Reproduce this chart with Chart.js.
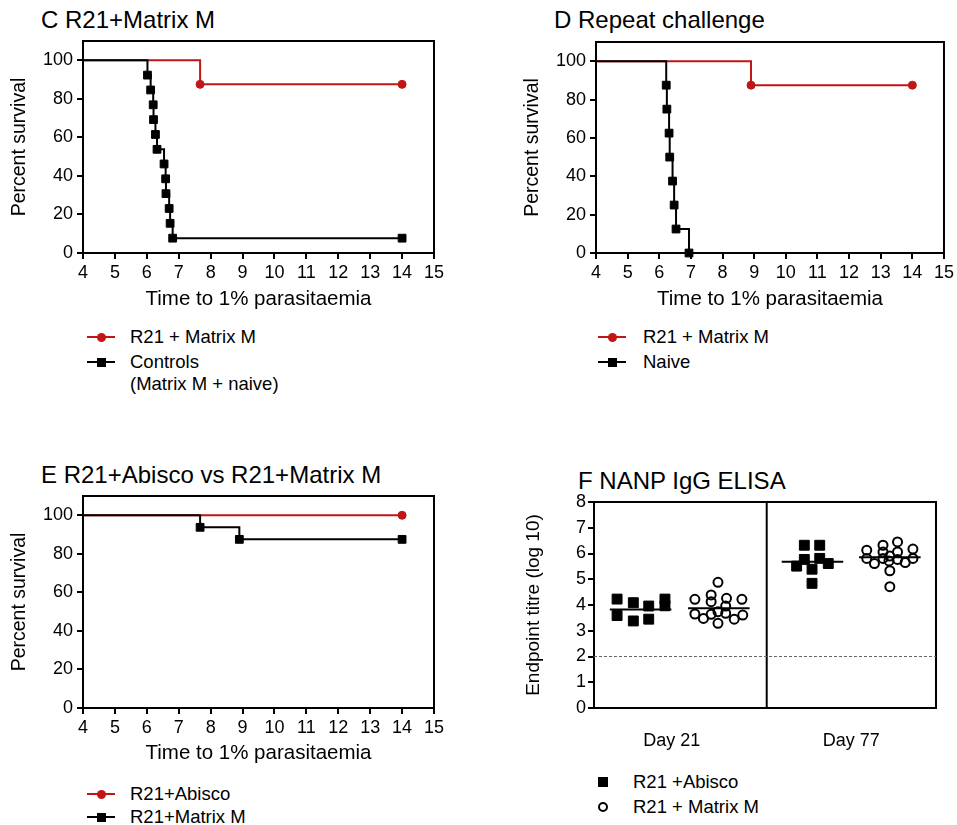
<!DOCTYPE html>
<html>
<head>
<meta charset="utf-8">
<title>Survival and ELISA panels</title>
<script src="https://cdn.jsdelivr.net/npm/chart.js@4.4.0/dist/chart.umd.min.js"></script>
<style>
  html, body { margin: 0; padding: 0; background: #fff; overflow: hidden; }
  body { width: 957px; height: 825px; position: relative; font-family: "Liberation Sans", Arial, sans-serif; color: #000; }
  canvas { position: absolute; }
  .title { position: absolute; font-size: 24px; line-height: 1; white-space: nowrap; }
  .legtext { position: absolute; font-size: 18.5px; line-height: 1; white-space: nowrap; }
  .legline { position: absolute; height: 2px; }
  .legmark { position: absolute; box-sizing: border-box; }
</style>
</head>
<body>

<div class="title" style="left:41px; top:8px">C R21+Matrix M</div>
<div class="title" style="left:554px; top:8px">D Repeat challenge</div>
<div class="title" style="left:41px; top:463px">E R21+Abisco vs R21+Matrix M</div>
<div class="title" style="left:578px; top:469px">F NANP IgG ELISA</div>

<canvas id="chartC" width="450" height="312" style="left:0; top:0"></canvas>
<canvas id="chartD" width="445" height="312" style="left:512px; top:0"></canvas>
<canvas id="chartE" width="450" height="326" style="left:0; top:440px"></canvas>
<canvas id="chartF" width="445" height="300" style="left:512px; top:460px"></canvas>

<script>
const FONT = "'Liberation Sans', Arial, sans-serif";
const RED = "#c01616";

// axis ticks
const survXTicks = [4, 5, 6, 7, 8, 9, 10, 11, 12, 13, 14, 15];
const survYTicks = [0, 20, 40, 60, 80, 100];
const elisaYTicks = [0, 1, 2, 3, 4, 5, 6, 7, 8];
const elisaGroups = ["Day 21", "Day 77"];

// C: R21 + Matrix M vs controls
const cTreatedTime = [4, 7.67, 14];
const cTreatedSurv = [100, 87.5, 87.5];
const cControlTime = [4, 6.02, 6.12, 6.2, 6.21, 6.27, 6.32, 6.54, 6.59, 6.6, 6.7, 6.73, 6.81, 14];
const cControlSurv = [100, 92.3, 84.6, 76.9, 69.2, 61.5, 53.8, 46.2, 38.5, 30.8, 23.1, 15.4, 7.7, 7.7];

// D: repeat challenge
const dTreatedTime = [4, 8.9, 14];
const dTreatedSurv = [100, 87.5, 87.5];
const dNaiveTime = [4, 6.22, 6.24, 6.31, 6.33, 6.42, 6.47, 6.53, 6.94];
const dNaiveSurv = [100, 87.5, 75, 62.5, 50, 37.5, 25, 12.5, 0];

// E: Abisco vs Matrix M
const eAbiscoTime = [4, 14];
const eAbiscoSurv = [100, 100];
const eMatrixTime = [4, 7.67, 8.9, 14];
const eMatrixSurv = [100, 93.75, 87.5, 87.5];

// F: endpoint titres (log10), x = position within the day group
const abiscoDay21X = [0.27, 0.27, 0.46, 0.46, 0.64, 0.64, 0.83, 0.83];
const abiscoDay21 = [4.23, 3.59, 4.09, 3.38, 3.96, 3.45, 4.23, 3.97];
const matrixDay21X = [1.45, 1.18, 1.37, 1.37, 1.55, 1.73, 1.54, 1.18, 1.28, 1.37, 1.45, 1.45, 1.54, 1.64, 1.74];
const matrixDay21 = [4.88, 4.22, 4.39, 4.13, 4.26, 4.22, 3.96, 3.65, 3.48, 3.64, 3.74, 3.29, 3.68, 3.45, 3.61];
const abiscoDay77X = [2.46, 2.64, 2.46, 2.64, 2.37, 2.55, 2.74, 2.55];
const abiscoDay77 = [6.32, 6.32, 5.77, 5.81, 5.51, 5.39, 5.61, 4.84];
const matrixDay77X = [3.55, 3.38, 3.19, 3.73, 3.38, 3.55, 3.19, 3.38, 3.46, 3.55, 3.73, 3.28, 3.45, 3.64, 3.46, 3.46];
const matrixDay77 = [6.45, 6.32, 6.13, 6.17, 6.06, 6.06, 5.81, 5.81, 5.90, 5.77, 5.81, 5.61, 5.71, 5.65, 5.33, 4.71];
const abiscoMedian = [3.83, 5.68];
const matrixMedian = [3.87, 5.85];
const detectionLimit = 2;

const pts = (xs, ys) => xs.map((x, i) => ({ x, y: ys[i] }));

// box around the plot area, like GraphPad
const framePlugin = {
  id: "frame",
  beforeDatasetsDraw(chart) {
    const { ctx, chartArea: a } = chart;
    ctx.save();
    ctx.strokeStyle = "#000";
    ctx.lineWidth = 2;
    ctx.strokeRect(a.left, a.top, a.right - a.left, a.bottom - a.top);
    ctx.restore();
  }
};

function kmLine(xs, ys, color, style, radius) {
  return {
    type: "line",
    data: pts(xs, ys),
    stepped: true,
    borderColor: color,
    backgroundColor: color,
    borderWidth: 2,
    pointStyle: style,
    pointRadius: (c) => (c.dataIndex === 0 ? 0 : radius),
    pointHoverRadius: 0,
    pointBackgroundColor: color,
    pointBorderColor: color,
    pointBorderWidth: 1,
    fill: false,
    clip: false
  };
}

function survivalChart(id, box, datasets) {
  return new Chart(document.getElementById(id), {
    type: "line",
    data: { datasets },
    options: {
      responsive: false,
      animation: false,
      devicePixelRatio: 1,
      layout: { padding: { top: box.padTop, right: box.padRight, left: 0, bottom: 0 } },
      plugins: { legend: { display: false }, tooltip: { enabled: false } },
      scales: {
        x: {
          type: "linear",
          min: 4,
          max: 15,
          afterBuildTicks: (s) => { s.ticks = survXTicks.map((v) => ({ value: v })); },
          afterFit: (s) => { s.height = box.xHeight; },
          grid: { display: true, drawOnChartArea: false, drawTicks: true, tickLength: 6, color: "#000", lineWidth: 2 },
          border: { display: true, color: "#000", width: 2 },
          ticks: { color: "#000", font: { family: FONT, size: 18 }, padding: 3, maxRotation: 0, autoSkip: false },
          title: {
            display: true,
            text: "Time to 1% parasitaemia",
            color: "#000",
            font: { family: FONT, size: 20.5 },
            padding: { top: 0, bottom: 0 }
          }
        },
        y: {
          type: "linear",
          min: 0,
          max: 110,
          afterBuildTicks: (s) => { s.ticks = survYTicks.map((v) => ({ value: v })); },
          afterFit: (s) => { s.width = box.yWidth; },
          grid: { display: true, drawOnChartArea: false, drawTicks: true, tickLength: 6, color: "#000", lineWidth: 2 },
          border: { display: true, color: "#000", width: 2 },
          ticks: { color: "#000", font: { family: FONT, size: 18 }, padding: 4 },
          title: {
            display: true,
            text: "Percent survival",
            color: "#000",
            font: { family: FONT, size: 19.5 },
            padding: { top: box.yTitlePad, bottom: 0 }
          }
        }
      }
    },
    plugins: [framePlugin]
  });
}

survivalChart("chartC", { padTop: 41, padRight: 16, yWidth: 83, xHeight: 59, yTitlePad: 8 }, [
  kmLine(cControlTime, cControlSurv, "#000", "rect", 5.5),
  kmLine(cTreatedTime, cTreatedSurv, RED, "circle", 4)
]);

survivalChart("chartD", { padTop: 42, padRight: 11, yWidth: 84, xHeight: 59, yTitlePad: 9 }, [
  kmLine(dNaiveTime, dNaiveSurv, "#000", "rect", 5.5),
  kmLine(dTreatedTime, dTreatedSurv, RED, "circle", 4)
]);

survivalChart("chartE", { padTop: 56, padRight: 16, yWidth: 83, xHeight: 58, yTitlePad: 8 }, [
  kmLine(eMatrixTime, eMatrixSurv, "#000", "rect", 5.5),
  kmLine(eAbiscoTime, eAbiscoSurv, RED, "circle", 4)
]);

// F: scatter with median bars
const medianHalf = 0.36;
const abiscoCenters = [0.545, 2.555];
const matrixCenters = [1.46, 3.46];
const medianLines = [];
abiscoMedian.forEach((m, i) => medianLines.push([abiscoCenters[i], m]));
matrixMedian.forEach((m, i) => medianLines.push([matrixCenters[i], m]));

new Chart(document.getElementById("chartF"), {
  type: "scatter",
  data: {
    datasets: [
      ...medianLines.map(([c, m]) => ({
        type: "line",
        data: [{ x: c - medianHalf, y: m }, { x: c + medianHalf, y: m }],
        borderColor: "#000",
        borderWidth: 2,
        pointRadius: 0,
        fill: false
      })),
      {
        data: pts(abiscoDay21X, abiscoDay21).concat(pts(abiscoDay77X, abiscoDay77)),
        pointStyle: "rect",
        pointRadius: 7,
        pointBackgroundColor: "#000",
        pointBorderColor: "#000",
        pointBorderWidth: 1,
        clip: false
      },
      {
        data: pts(matrixDay21X, matrixDay21).concat(pts(matrixDay77X, matrixDay77)),
        pointStyle: "circle",
        pointRadius: 4.5,
        pointBackgroundColor: "rgba(0,0,0,0)",
        pointBorderColor: "#000",
        pointBorderWidth: 2,
        clip: false
      },
      {
        type: "line",
        data: [{ x: 0, y: detectionLimit }, { x: 4, y: detectionLimit }],
        borderColor: "#666",
        borderWidth: 1,
        borderDash: [3, 2],
        pointRadius: 0,
        fill: false
      },
      {
        type: "line",
        data: [{ x: 2.02, y: 0 }, { x: 2.02, y: 8 }],
        borderColor: "#000",
        borderWidth: 2,
        pointRadius: 0,
        fill: false
      }
    ]
  },
  options: {
    responsive: false,
    animation: false,
    devicePixelRatio: 1,
    layout: { padding: { top: 42, right: 21, left: 0, bottom: 0 } },
    plugins: { legend: { display: false }, tooltip: { enabled: false } },
    scales: {
      x: {
        type: "linear",
        min: 0,
        max: 4,
        afterBuildTicks: (s) => { s.ticks = [{ value: 0.91 }, { value: 3.01 }]; },
        afterFit: (s) => { s.height = 52; },
        grid: { display: false },
        border: { display: true, color: "#000", width: 2 },
        ticks: {
          color: "#000",
          font: { family: FONT, size: 18 },
          padding: 14,
          maxRotation: 0,
          autoSkip: false,
          callback: (v, i) => elisaGroups[i]
        }
      },
      y: {
        type: "linear",
        min: 0,
        max: 8,
        afterBuildTicks: (s) => { s.ticks = elisaYTicks.map((v) => ({ value: v })); },
        afterFit: (s) => { s.width = 82; },
        grid: { display: true, drawOnChartArea: false, drawTicks: true, tickLength: 6, color: "#000", lineWidth: 2 },
        border: { display: true, color: "#000", width: 2 },
        ticks: { color: "#000", font: { family: FONT, size: 18 }, padding: 2 },
        title: {
          display: true,
          text: "Endpoint titre (log 10)",
          color: "#000",
          font: { family: FONT, size: 19 },
          padding: { top: 10, bottom: 0 }
        }
      }
    }
  },
  plugins: [framePlugin]
});

// legends (drawn as html)
function legendRow(x, cy, textX, label, color, shape, withLine) {
  if (withLine) {
    const ln = document.createElement("div");
    ln.className = "legline";
    ln.style.cssText = `left:${x}px; top:${cy - 1}px; width:28px; background:${color}`;
    document.body.appendChild(ln);
  }
  const mk = document.createElement("div");
  mk.className = "legmark";
  const cx = withLine ? x + 14 : x;
  const size = withLine ? 9 : 10;
  let css = `left:${cx - size / 2}px; top:${cy - size / 2}px; width:${size}px; height:${size}px;`;
  if (shape === "square") css += `background:${color};`;
  else if (shape === "dot") css += `background:${color}; border-radius:50%;`;
  else css += `border:2px solid ${color}; border-radius:50%;`;
  mk.style.cssText = css;
  document.body.appendChild(mk);
  if (label) {
    const t = document.createElement("div");
    t.className = "legtext";
    t.style.left = textX + "px";
    t.style.top = (cy - 9) + "px";
    t.textContent = label;
    document.body.appendChild(t);
  }
}

function legendText(x, cy, label) {
  const t = document.createElement("div");
  t.className = "legtext";
  t.style.left = x + "px";
  t.style.top = (cy - 9) + "px";
  t.textContent = label;
  document.body.appendChild(t);
}

legendRow(87, 337, 130, "R21 + Matrix M", RED, "dot", true);
legendRow(87, 362, 130, "Controls", "#000", "square", true);
legendText(130, 384, "(Matrix M + naive)");

legendRow(598, 337, 643, "R21 + Matrix M", RED, "dot", true);
legendRow(598, 362, 643, "Naive", "#000", "square", true);

legendRow(87, 794, 130, "R21+Abisco", RED, "dot", true);
legendRow(87, 817, 130, "R21+Matrix M", "#000", "square", true);

legendRow(603, 782, 633, "R21 +Abisco", "#000", "square", false);
legendRow(603, 807, 633, "R21 + Matrix M", "#000", "ring", false);
</script>
</body>
</html>
